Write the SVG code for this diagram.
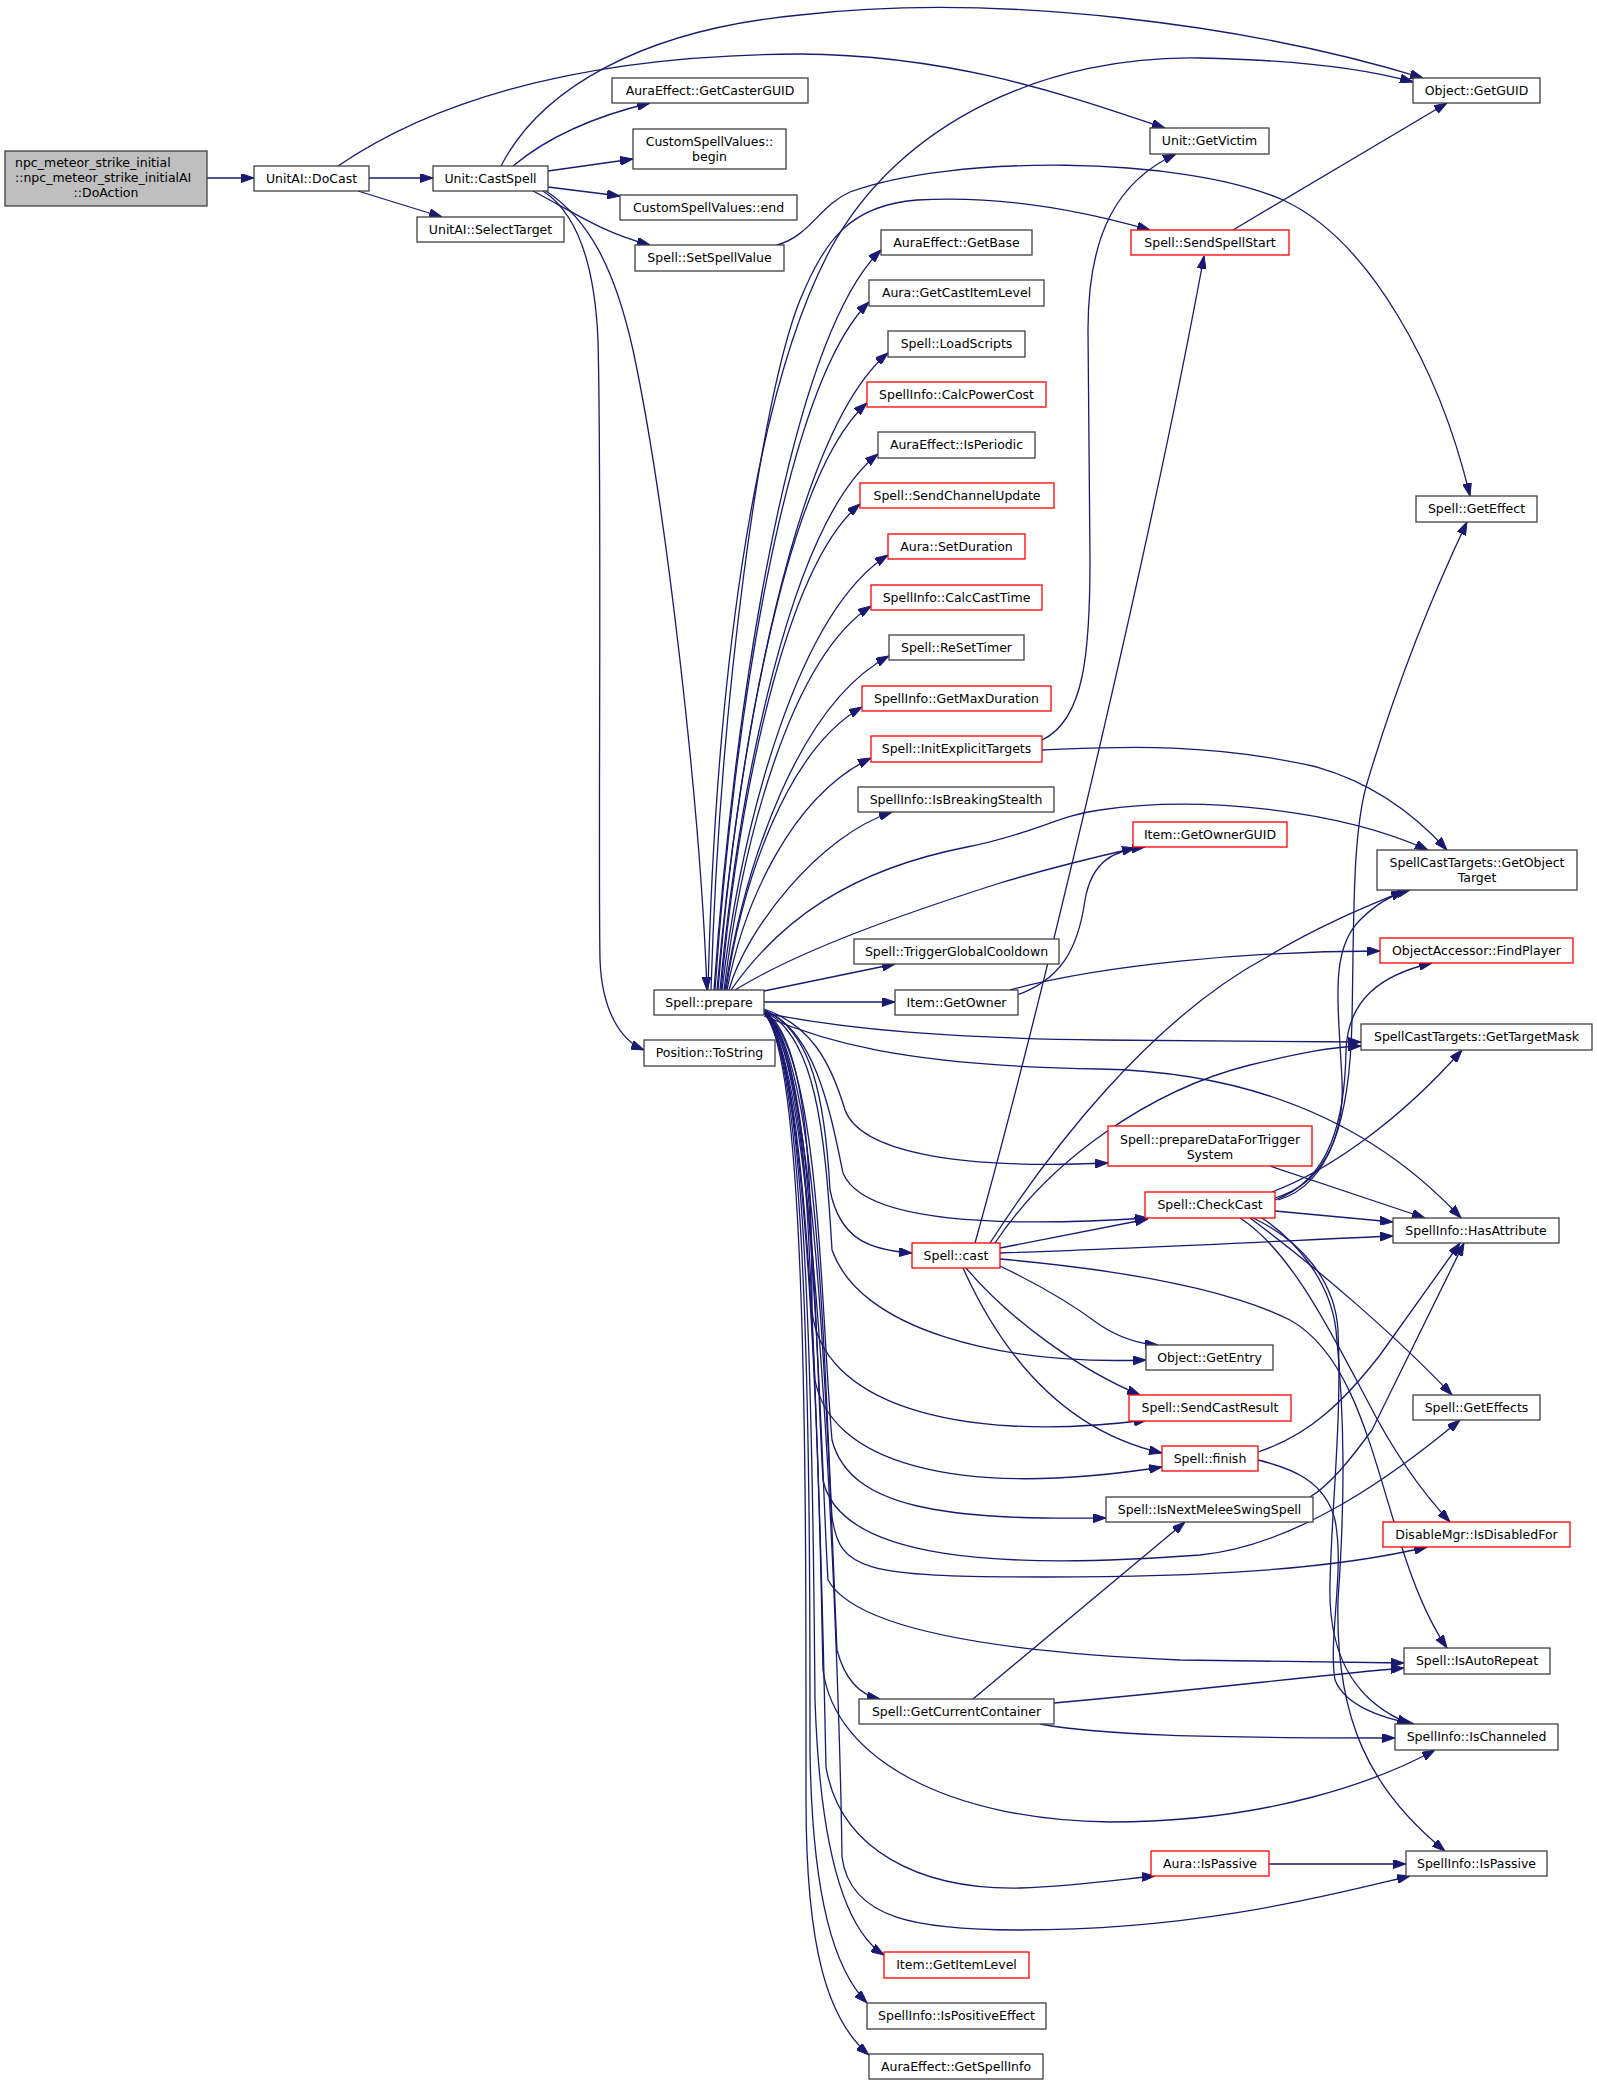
<svg xmlns="http://www.w3.org/2000/svg" width="1597" height="2085" viewBox="0 0 1597 2085">
<defs>
<marker id="a" viewBox="0 0 13 9" refX="13" refY="4.5" markerWidth="13" markerHeight="9" markerUnits="userSpaceOnUse" orient="auto"><path d="M0,0 L13,4.5 L0,9 z" fill="#191970" stroke="#191970" stroke-width="1"/></marker>
<style>
.n rect{fill:#ffffff;stroke:#404040;stroke-width:1.3}
.r rect{fill:#ffffff;stroke:#ff0000;stroke-width:1.3}
.root rect{fill:#bfbfbf;stroke:#404040;stroke-width:1.3}
text{font-family:"DejaVu Sans","Liberation Sans",sans-serif;font-size:12.5px;fill:#000000;text-anchor:middle}
#edges path{fill:none;stroke:#191970;stroke-width:1.3;marker-end:url(#a)}
</style>
</defs>
<rect width="1597" height="2085" fill="#ffffff"/>
<g id="edges">
<path d="M207,178 L254,178"/>
<path d="M369,178 L433,178"/>
<path d="M358,191 L442,217"/>
<path d="M338,166 C 420,110 560,55 800,54 C 960,55 1080,100 1165,128"/>
<path d="M501,166 C 540,90 640,30 800,15 C 1000,-8 1250,25 1423,78"/>
<path d="M513,166 C 550,135 600,115 650,103"/>
<path d="M548,171 L633,159"/>
<path d="M548,187 L620,196"/>
<path d="M533,191 C 570,210 600,232 650,245"/>
<path d="M546,191 C 590,220 615,270 633,350 C 665,500 700,800 707,990"/>
<path d="M543,191 C 580,215 595,270 598,340 C 602,500 598,850 600,960 C 602,1010 620,1040 644,1050"/>
<path d="M777,245 C 810,236 820,205 850,192 C 950,155 1180,155 1283,200 C 1370,240 1440,370 1470,496"/>
<path d="M708,990 C 715,700 750,400 830,250 C 900,120 1050,55 1200,58 C 1300,60 1370,70 1413,82"/>
<path d="M711,990 C 720,700 760,400 800,300 C 825,240 850,205 917,200 C 1000,195 1080,210 1150,230"/>
<path d="M714,990 C 734,708 789,339 881,250"/>
<path d="M715,990 C 733,727 784,386 869,302"/>
<path d="M717,990 C 738,747 794,432 888,353"/>
<path d="M718,990 C 736,766 785,476 867,403"/>
<path d="M720,990 C 739,785 791,522 878,454"/>
<path d="M721,990 C 738,804 784,567 860,504"/>
<path d="M722,990 C 742,823 797,613 888,555"/>
<path d="M724,990 C 742,843 790,659 871,606"/>
<path d="M725,990 C 745,862 799,704 889,656"/>
<path d="M726,990 C 742,881 787,750 862,707"/>
<path d="M727,990 C 744,901 792,796 871,758"/>
<path d="M729,990 C 745,930 820,835 892,812"/>
<path d="M731,990 C 780,920 850,870 967,847 C 1030,835 1060,815 1100,810 C 1200,795 1340,810 1428,850"/>
<path d="M735,990 C 800,950 900,915 1000,883 C 1060,865 1100,856 1135,848"/>
<path d="M764,991 L895,964"/>
<path d="M764,1002 L895,1002"/>
<path d="M1017,995 C 1060,980 1078,950 1085,900 C 1092,860 1115,850 1145,847"/>
<path d="M1010,990 C 1100,965 1250,951 1380,951"/>
<path d="M1042,740 C 1085,720 1090,650 1090,560 L 1088,330 C 1088,230 1120,180 1176,154"/>
<path d="M1042,750 C 1100,748 1200,740 1317,767 C 1380,785 1420,820 1447,850"/>
<path d="M1233,230 L1447,103"/>
<path d="M764,1013 C 850,1030 950,1038 1100,1040 L 1361,1042"/>
<path d="M764,1016 C 820,1040 900,1066 1100,1069 C 1250,1072 1370,1120 1461,1218"/>
<path d="M764,1009 C 810,1025 830,1060 845,1110 C 860,1150 950,1170 1108,1163"/>
<path d="M764,1010 C 815,1030 830,1110 843,1173 C 860,1215 960,1230 1148,1218"/>
<path d="M764,1010 C 812,1030 825,1100 830,1190 C 840,1240 870,1250 912,1253"/>
<path d="M764,1011 C 815,1035 825,1130 832,1250 C 860,1330 1000,1365 1146,1360"/>
<path d="M764,1011 C 810,1040 812,1200 812,1310 C 820,1400 950,1445 1147,1420"/>
<path d="M764,1012 C 808,1045 808,1250 815,1380 C 830,1460 950,1500 1162,1467"/>
<path d="M764,1012 C 820,1050 820,1300 832,1440 C 850,1510 950,1520 1106,1518"/>
<path d="M764,1012 C 815,1050 815,1350 823,1480 C 840,1560 1000,1570 1200,1555 C 1300,1545 1400,1470 1460,1420"/>
<path d="M764,1012 C 820,1050 825,1400 832,1517 C 840,1570 860,1577 1046,1577 C 1200,1577 1330,1570 1427,1547"/>
<path d="M764,1012 C 815,1050 820,1450 828,1580 C 850,1620 950,1650 1180,1660 L 1404,1663"/>
<path d="M764,1013 C 820,1060 830,1500 837,1650 C 845,1680 860,1695 880,1699"/>
<path d="M764,1013 C 815,1060 820,1550 823,1670 C 835,1760 950,1820 1110,1822 C 1270,1822 1380,1780 1435,1750"/>
<path d="M764,1013 C 815,1060 822,1600 826,1767 C 840,1850 920,1890 1020,1888 C 1080,1886 1130,1878 1155,1876"/>
<path d="M764,1013 C 820,1060 840,1700 842,1857 C 850,1920 920,1930 1020,1930 C 1200,1930 1330,1895 1410,1876"/>
<path d="M764,1013 C 812,1060 813,1500 815,1700 C 820,1850 845,1930 884,1955"/>
<path d="M764,1013 C 810,1060 810,1500 810,1750 C 812,1900 835,1970 867,2003"/>
<path d="M764,1013 C 808,1060 806,1500 806,1800 C 806,1950 828,2020 869,2055"/>
<path d="M975,1243 C 1040,1010 1150,550 1204,256"/>
<path d="M990,1243 C 1050,1150 1150,1020 1267,957 C 1320,925 1370,905 1404,891"/>
<path d="M995,1243 C 1050,1160 1150,1090 1250,1065 C 1300,1053 1330,1047 1361,1046"/>
<path d="M1000,1248 C 1050,1238 1100,1228 1148,1219"/>
<path d="M1000,1253 C 1150,1248 1300,1240 1393,1236"/>
<path d="M1000,1259 C 1100,1268 1220,1285 1290,1320 C 1380,1370 1380,1550 1447,1648"/>
<path d="M1000,1266 C 1050,1290 1080,1310 1100,1325 C 1120,1338 1140,1344 1158,1345"/>
<path d="M966,1268 C 1010,1320 1080,1370 1140,1395"/>
<path d="M963,1268 C 1000,1350 1060,1430 1162,1453"/>
<path d="M1275,1198 C 1320,1185 1345,1140 1342,1080 C 1338,1000 1330,950 1360,920 C 1375,905 1390,895 1410,890"/>
<path d="M1275,1200 C 1330,1180 1345,1120 1346,1050 C 1348,1000 1380,975 1432,963"/>
<path d="M1272,1192 C 1330,1170 1400,1120 1462,1050"/>
<path d="M1275,1211 L1393,1222"/>
<path d="M1278,1200 C 1330,1185 1350,1120 1352,1020 C 1354,920 1352,830 1368,780 C 1395,690 1430,600 1467,522"/>
<path d="M1250,1218 C 1320,1270 1400,1340 1452,1395"/>
<path d="M1240,1218 C 1290,1250 1330,1330 1367,1400 C 1390,1445 1420,1490 1450,1522"/>
<path d="M1253,1218 C 1300,1240 1335,1280 1338,1330 C 1342,1420 1332,1500 1330,1583 C 1328,1650 1350,1700 1410,1724"/>
<path d="M1262,1218 C 1295,1240 1330,1280 1336,1330 C 1345,1420 1345,1500 1338,1600 C 1335,1720 1370,1790 1445,1851"/>
<path d="M1258,1460 C 1290,1468 1325,1480 1335,1520 C 1345,1570 1328,1640 1335,1680 C 1345,1705 1380,1718 1414,1724"/>
<path d="M1258,1452 C 1310,1435 1345,1400 1380,1355 L 1460,1243"/>
<path d="M1310,1497 C 1330,1485 1350,1460 1372,1430 L 1464,1243"/>
<path d="M1270,1166 L1425,1218"/>
<path d="M973,1699 L1185,1522"/>
<path d="M1054,1703 C 1200,1690 1320,1675 1404,1668"/>
<path d="M1040,1724 C 1100,1735 1200,1738 1395,1738"/>
<path d="M1269,1864 L1406,1864"/>
</g>
<g id="n_doaction" class="root"><rect x="5" y="151" width="202" height="55"/><text x="15" y="167" style="text-anchor:start">npc_meteor_strike_initial</text><text x="15" y="182" style="text-anchor:start">::npc_meteor_strike_initialAI</text><text x="106" y="197">::DoAction</text></g>
<g id="n_docast" class="n"><rect x="254" y="166" width="115" height="25"/><text x="311.5" y="183">UnitAI::DoCast</text></g>
<g id="n_castspell" class="n"><rect x="433" y="166" width="115" height="25"/><text x="490.5" y="183">Unit::CastSpell</text></g>
<g id="n_selecttarget" class="n"><rect x="417" y="217" width="147" height="25"/><text x="490.5" y="234">UnitAI::SelectTarget</text></g>
<g id="n_castergiud" class="n"><rect x="612" y="78" width="196" height="25"/><text x="710" y="95">AuraEffect::GetCasterGUID</text></g>
<g id="n_begin" class="n"><rect x="633" y="129" width="153" height="40"/><text x="709.5" y="145.5">CustomSpellValues::</text><text x="709.5" y="160.5">begin</text></g>
<g id="n_end" class="n"><rect x="620" y="195" width="177" height="25"/><text x="708.5" y="212">CustomSpellValues::end</text></g>
<g id="n_setspellvalue" class="n"><rect x="635" y="245" width="149" height="26"/><text x="709.5" y="262">Spell::SetSpellValue</text></g>
<g id="n_getguid" class="n"><rect x="1413" y="78" width="127" height="25"/><text x="1476.5" y="95">Object::GetGUID</text></g>
<g id="n_getvictim" class="n"><rect x="1150" y="128" width="119" height="26"/><text x="1209.5" y="145">Unit::GetVictim</text></g>
<g id="n_sendspellstart" class="r"><rect x="1131" y="230" width="158" height="25"/><text x="1210" y="247">Spell::SendSpellStart</text></g>
<g id="n_geteffect" class="n"><rect x="1416" y="496" width="121" height="26"/><text x="1476.5" y="513">Spell::GetEffect</text></g>
<g id="n_getbase" class="n"><rect x="881" y="230" width="151" height="25"/><text x="956.5" y="247">AuraEffect::GetBase</text></g>
<g id="n_getcastitemlevel" class="n"><rect x="869" y="280" width="175" height="26"/><text x="956.5" y="297">Aura::GetCastItemLevel</text></g>
<g id="n_loadscripts" class="n"><rect x="888" y="331" width="137" height="26"/><text x="956.5" y="348">Spell::LoadScripts</text></g>
<g id="n_calcpowercost" class="r"><rect x="867" y="382" width="179" height="25"/><text x="956.5" y="399">SpellInfo::CalcPowerCost</text></g>
<g id="n_isperiodic" class="n"><rect x="878" y="432" width="157" height="26"/><text x="956.5" y="449">AuraEffect::IsPeriodic</text></g>
<g id="n_sendchannelupdate" class="r"><rect x="860" y="483" width="194" height="25"/><text x="957" y="500">Spell::SendChannelUpdate</text></g>
<g id="n_setduration" class="r"><rect x="888" y="534" width="137" height="25"/><text x="956.5" y="551">Aura::SetDuration</text></g>
<g id="n_calccasttime" class="r"><rect x="871" y="585" width="171" height="25"/><text x="956.5" y="602">SpellInfo::CalcCastTime</text></g>
<g id="n_resettimer" class="n"><rect x="889" y="635" width="135" height="25"/><text x="956.5" y="652">Spell::ReSetTimer</text></g>
<g id="n_getmaxduration" class="r"><rect x="862" y="686" width="189" height="25"/><text x="956.5" y="703">SpellInfo::GetMaxDuration</text></g>
<g id="n_initexplicittargets" class="r"><rect x="871" y="736" width="171" height="26"/><text x="956.5" y="753">Spell::InitExplicitTargets</text></g>
<g id="n_isbreakingstealth" class="n"><rect x="858" y="787" width="196" height="25"/><text x="956" y="804">SpellInfo::IsBreakingStealth</text></g>
<g id="n_getownerguid" class="r"><rect x="1133" y="822" width="154" height="25"/><text x="1210" y="839">Item::GetOwnerGUID</text></g>
<g id="n_getobjecttarget" class="n"><rect x="1377" y="850" width="200" height="40"/><text x="1477" y="866.5">SpellCastTargets::GetObject</text><text x="1477" y="881.5">Target</text></g>
<g id="n_triggerglobalcooldown" class="n"><rect x="854" y="939" width="205" height="25"/><text x="956.5" y="956">Spell::TriggerGlobalCooldown</text></g>
<g id="n_findplayer" class="r"><rect x="1380" y="938" width="193" height="25"/><text x="1476.5" y="955">ObjectAccessor::FindPlayer</text></g>
<g id="n_prepare" class="n"><rect x="654" y="990" width="110" height="25"/><text x="709" y="1007">Spell::prepare</text></g>
<g id="n_getowner" class="n"><rect x="895" y="990" width="123" height="25"/><text x="956.5" y="1007">Item::GetOwner</text></g>
<g id="n_gettargetmask" class="n"><rect x="1361" y="1024" width="231" height="26"/><text x="1476.5" y="1041">SpellCastTargets::GetTargetMask</text></g>
<g id="n_tostring" class="n"><rect x="644" y="1040" width="131" height="26"/><text x="709.5" y="1057">Position::ToString</text></g>
<g id="n_preparedata" class="r"><rect x="1108" y="1126" width="204" height="40"/><text x="1210" y="1143.5">Spell::prepareDataForTrigger</text><text x="1210" y="1158.5">System</text></g>
<g id="n_checkcast" class="r"><rect x="1145" y="1192" width="130" height="26"/><text x="1210" y="1209">Spell::CheckCast</text></g>
<g id="n_hasattribute" class="n"><rect x="1393" y="1218" width="166" height="25"/><text x="1476" y="1235">SpellInfo::HasAttribute</text></g>
<g id="n_cast" class="r"><rect x="912" y="1243" width="88" height="25"/><text x="956" y="1260">Spell::cast</text></g>
<g id="n_getentry" class="n"><rect x="1146" y="1345" width="127" height="25"/><text x="1209.5" y="1362">Object::GetEntry</text></g>
<g id="n_geteffects" class="n"><rect x="1413" y="1395" width="127" height="25"/><text x="1476.5" y="1412">Spell::GetEffects</text></g>
<g id="n_sendcastresult" class="r"><rect x="1129" y="1395" width="162" height="26"/><text x="1210" y="1412">Spell::SendCastResult</text></g>
<g id="n_finish" class="r"><rect x="1162" y="1446" width="96" height="25"/><text x="1210" y="1463">Spell::finish</text></g>
<g id="n_isnextmelee" class="n"><rect x="1106" y="1497" width="207" height="25"/><text x="1209.5" y="1514">Spell::IsNextMeleeSwingSpell</text></g>
<g id="n_isdisabledfor" class="r"><rect x="1383" y="1522" width="187" height="25"/><text x="1476.5" y="1539">DisableMgr::IsDisabledFor</text></g>
<g id="n_isautorepeat" class="n"><rect x="1404" y="1648" width="146" height="26"/><text x="1477" y="1665">Spell::IsAutoRepeat</text></g>
<g id="n_getcurrentcontainer" class="n"><rect x="859" y="1699" width="195" height="25"/><text x="956.5" y="1716">Spell::GetCurrentContainer</text></g>
<g id="n_ischanneled" class="n"><rect x="1395" y="1724" width="163" height="26"/><text x="1476.5" y="1741">SpellInfo::IsChanneled</text></g>
<g id="n_aurapassive" class="r"><rect x="1151" y="1851" width="118" height="25"/><text x="1210" y="1868">Aura::IsPassive</text></g>
<g id="n_spellinfopassive" class="n"><rect x="1406" y="1851" width="141" height="25"/><text x="1476.5" y="1868">SpellInfo::IsPassive</text></g>
<g id="n_getitemlevel" class="r"><rect x="884" y="1952" width="145" height="26"/><text x="956.5" y="1969">Item::GetItemLevel</text></g>
<g id="n_ispositiveeffect" class="n"><rect x="867" y="2003" width="179" height="26"/><text x="956.5" y="2020">SpellInfo::IsPositiveEffect</text></g>
<g id="n_getspellinfo" class="n"><rect x="869" y="2054" width="174" height="25"/><text x="956" y="2071">AuraEffect::GetSpellInfo</text></g>
</svg>
